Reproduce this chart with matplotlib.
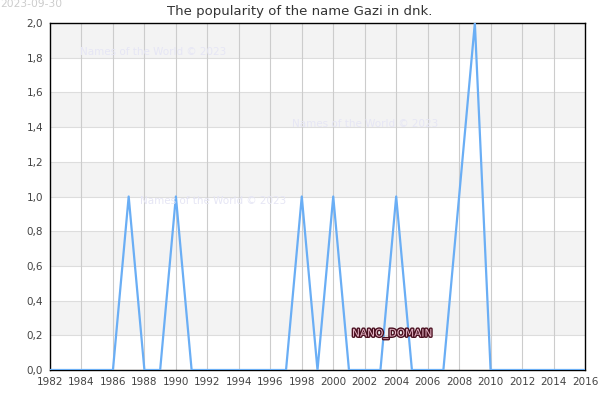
import matplotlib
matplotlib.use('Agg')
import matplotlib.pyplot as plt
import matplotlib.patheffects as pe
import numpy as np

years = list(range(1982, 2017))
counts = [0, 0, 0, 0, 0, 1, 0, 0, 1, 0,
          0, 0, 0, 0, 0, 0, 1, 0, 1, 0,
          0, 0, 1, 0, 0, 0, 1, 2, 0, 0,
          0, 0, 0, 0, 0]
xticks = list(range(1982, 2017, 2))
yticks = [0.0, 0.2, 0.4, 0.6, 0.8, 1.0, 1.2, 1.4, 1.6, 1.8, 2.0]

fig = plt.figure(figsize=(6, 4), dpi=100)
ax = fig.add_axes([50/600, 30/400, 535/600, 347/400])

# alternating bands
for i in range(len(yticks) - 1):
    if i % 2 == 1:
        ax.axhspan(yticks[i], yticks[i+1], color='#f3f3f3', zorder=0, lw=0)
for y in yticks[1:-1]:
    ax.axhline(y, color='#dddddd', lw=0.8, zorder=1)
for x in xticks[1:-1]:
    ax.axvline(x, color='#cccccc', lw=0.8, zorder=1)

ax.plot(years, counts, color='#6aaef5', lw=1.6, zorder=3)

ax.set_xlim(1982, 2016)
ax.set_ylim(0, 2.0)
ax.set_xticks(xticks)
ax.set_xticklabels([str(x) for x in xticks])
ax.set_yticks(yticks)
ax.set_yticklabels(['{:.1f}'.format(y).replace('.', ',') for y in yticks])
ax.tick_params(length=0, labelsize=7.5, colors='#444444', pad=5)
for s in ax.spines.values():
    s.set_color('black')
    s.set_linewidth(1)

fig.text(0.5, 0.972, 'The popularity of the name Gazi in dnk.', ha='center', va='center',
         fontsize=9.5, color='#333333')
fig.text(0.0, 0.99, '2023-09-30', ha='left', va='center', fontsize=7.7, color='#cccccc')

wm = dict(fontsize=7.5, color='#e6e6f5', ha='left', va='center', zorder=2)
fig.text(80/600, 1 - 52/400, 'Names of the World \u00a9 2023', **wm)
fig.text(292/600, 1 - 124/400, 'Names of the World \u00a9 2023', **wm)
fig.text(140/600, 1 - 201/400, 'Names of the World \u00a9 2023', **wm)

fig.text(352/600, 1 - 334/400, 'NANO_DOMAIN', fontsize=7.6, color='#e8b8c8', ha='left', va='center',
         path_effects=[pe.withStroke(linewidth=2, foreground='#4a1020')])

fig.savefig('out.png', dpi=100)
